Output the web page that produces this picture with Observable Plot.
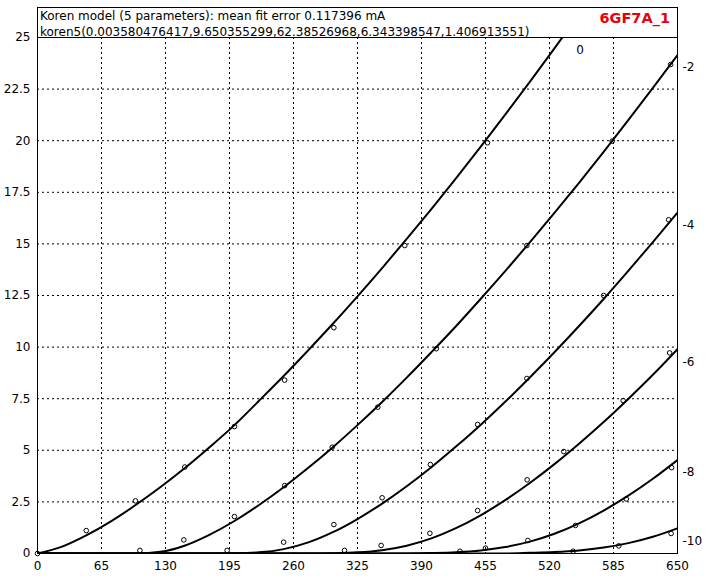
<!DOCTYPE html>
<html><head><meta charset="utf-8">
<script src="https://cdn.jsdelivr.net/npm/d3@7"></script>
<script src="https://cdn.jsdelivr.net/npm/@observablehq/plot@0.6"></script>
<style>html,body{margin:0;padding:0;background:#fff}</style>
</head><body><div id="chart"></div>
<script>
// ---- data ----
const titleLine1 = "Koren model (5 parameters): mean fit error 0.117396 mA";
const titleLine2 = "koren5(0.003580476417,9.650355299,62.38526968,6.343398547,1.406913551)";
const tubeName = "6GF7A_1";

const gridVoltages = ["0", "-2", "-4", "-6", "-8", "-10"];
const xTicks = [0, 65, 130, 195, 260, 325, 390, 455, 520, 585, 650];
const yTicks = [0, 2.5, 5, 7.5, 10, 12.5, 15, 17.5, 20, 22.5, 25];

// fitted (model) curves: [plate voltage, plate current mA]
const fitVg0 = [[0,0],[25,0.335],[50,0.89],[75,1.57],[100,2.36],[125,3.22],[150,4.15],[175,5.16],[200,6.22],[225,7.40],[250,8.60],[275,9.85],[300,11.13],[325,12.46],[350,13.83],[375,15.24],[400,16.69],[425,18.18],[450,19.70],[475,21.26],[500,22.85],[525,24.47],[550,26.13]];
const fitVg2 = [[0,0],[75,0],[100,0.003],[125,0.08],[150,0.39],[175,0.915],[200,1.575],[225,2.35],[250,3.21],[275,4.15],[300,5.15],[325,6.22],[350,7.34],[375,8.52],[400,9.75],[425,11.01],[450,12.33],[475,13.68],[500,15.07],[525,16.50],[550,17.96],[575,19.46],[600,21.00],[625,22.56],[650,24.15]];
const fitVg4 = [[0,0],[175,0],[200,0.009],[225,0.055],[250,0.212],[275,0.537],[300,1.033],[325,1.67],[350,2.42],[375,3.26],[400,4.18],[425,5.18],[450,6.23],[475,7.35],[500,8.53],[525,9.75],[550,11.02],[575,12.33],[600,13.69],[625,15.09],[650,16.52]];
const fitVg6 = [[0,0],[275,0],[300,0.015],[325,0.056],[350,0.163],[375,0.38],[400,0.732],[425,1.225],[450,1.85],[475,2.585],[500,3.415],[525,4.33],[550,5.32],[575,6.37],[600,7.49],[625,8.66],[650,9.90]];
const fitVg8 = [[0,0],[375,0],[400,0.022],[425,0.062],[450,0.149],[475,0.312],[500,0.575],[525,0.955],[550,1.46],[575,2.08],[600,2.80],[625,3.62],[650,4.53]];
const fitVg10 = [[0,0],[475,0],[500,0.031],[525,0.072],[550,0.151],[575,0.288],[600,0.502],[625,0.81],[650,1.22]];

// measured points: [plate voltage, plate current mA]
const measVg0 = [[0,0],[49.5,1.11],[99.5,2.55],[149.6,4.19],[200,6.15],[251,8.40],[301,10.94],[373,14.92],[457,19.9]];
const measVg2 = [[104,0.15],[148.6,0.66],[200,1.79],[251,3.29],[299.3,5.15],[345.6,7.09],[405,9.92],[497,14.92],[583.7,19.98],[643,23.69]];
const measVg4 = [[192.6,0.15],[250,0.55],[301,1.40],[350,2.70],[399,4.31],[447,6.25],[497,8.48],[575,12.5],[641,16.17]];
const measVg6 = [[311.8,0.15],[349,0.39],[398.5,0.98],[447,2.08],[497.3,3.57],[534.5,4.94],[594.8,7.41],[642,9.72]];
const measVg8 = [[429,0.11],[455,0.26],[498,0.63],[546.4,1.36],[598,2.64],[644,4.16]];
const measVg10 = [[544,0.11],[590.4,0.37],[643.5,0.97]];

// ---- build tables ----
const fits = [fitVg0, fitVg2, fitVg4, fitVg6, fitVg8, fitVg10];
const meas = [measVg0, measVg2, measVg4, measVg6, measVg8, measVg10];
const fitRows = fits.flatMap((c, i) => c.map(([v, a]) => ({v, a, g: gridVoltages[i]})));
const measRows = meas.flatMap((c, i) => c.map(([v, a]) => ({v, a, g: gridVoltages[i]})));

const yMax = yTicks[yTicks.length - 1];
// labels at the end of each visible curve
const endLabels = fits.slice(1).map((c, i) => ({v: c[c.length - 1][0], a: c[c.length - 1][1], g: gridVoltages[i + 1]}));
// label for 0 V curve: where it leaves the top of the frame
const topLabel = (() => {
  const c = fits[0];
  const k = c.findIndex(d => d[1] > yMax);
  const [v0, a0] = c[k - 1], [v1, a1] = c[k];
  return [{v: v0 + (v1 - v0) * (yMax - a0) / (a1 - a0), a: yMax, g: gridVoltages[0]}];
})();

const font = "DejaVu Sans";
const chart = Plot.plot({
  width: 719,
  height: 580,
  marginLeft: 37,
  marginRight: 42,
  marginTop: 37,
  marginBottom: 27,
  style: {fontFamily: font, fontSize: "12px", color: "#000", background: "#fff", overflow: "visible"},
  x: {domain: [0, 650], label: null},
  y: {domain: [0, 25], label: null},
  marks: [
    Plot.gridX(xTicks.slice(1, -1), {stroke: "#000", strokeOpacity: 1, strokeDasharray: "2,3"}),
    Plot.gridY(yTicks.slice(1, -1), {stroke: "#000", strokeOpacity: 1, strokeDasharray: "2,3"}),
    Plot.axisX(xTicks, {tickSize: 0, tickPadding: 8, fontSize: 12, label: null}),
    Plot.axisY(yTicks, {tickSize: 0, tickPadding: 7, fontSize: 12, label: null, tickFormat: d => String(d)}),
    Plot.line(fitRows, {x: "v", y: "a", z: "g", stroke: "#000", strokeWidth: 2, curve: "monotone-x", clip: true}),
    Plot.dot(measRows, {x: "v", y: "a", r: 2.3, stroke: "#000", strokeWidth: 1, fill: "none"}),
    Plot.frame({stroke: "#000", strokeWidth: 1}),
    Plot.text(endLabels, {x: "v", y: "a", text: "g", textAnchor: "start", dx: 5, dy: 12.5, fontSize: 12, fill: "#000"}),
    Plot.text(topLabel, {x: "v", y: "a", text: "g", textAnchor: "start", dx: 14, dy: 13, fontSize: 12, fill: "#000"})
  ]
});

// header box with model description and tube name
const svg = d3.select(chart);
svg.append("rect").attr("x", 37.5).attr("y", 7.5).attr("width", 640).attr("height", 30)
  .attr("fill", "none").attr("stroke", "#000");
svg.append("text").attr("x", 40).attr("y", 20).attr("text-anchor", "start").attr("font-family", font).attr("font-size", 12)
  .attr("fill", "#000").text(titleLine1);
svg.append("text").attr("x", 40).attr("y", 36).attr("text-anchor", "start").attr("font-family", font).attr("font-size", 12)
  .attr("fill", "#000").text(titleLine2);
svg.append("text").attr("x", 670).attr("y", 23).attr("text-anchor", "end").attr("font-family", font)
  .attr("font-size", 14.5).attr("font-weight", "bold").attr("fill", "#e8000b").text(tubeName);

document.getElementById("chart").appendChild(chart);
</script>
</body></html>
